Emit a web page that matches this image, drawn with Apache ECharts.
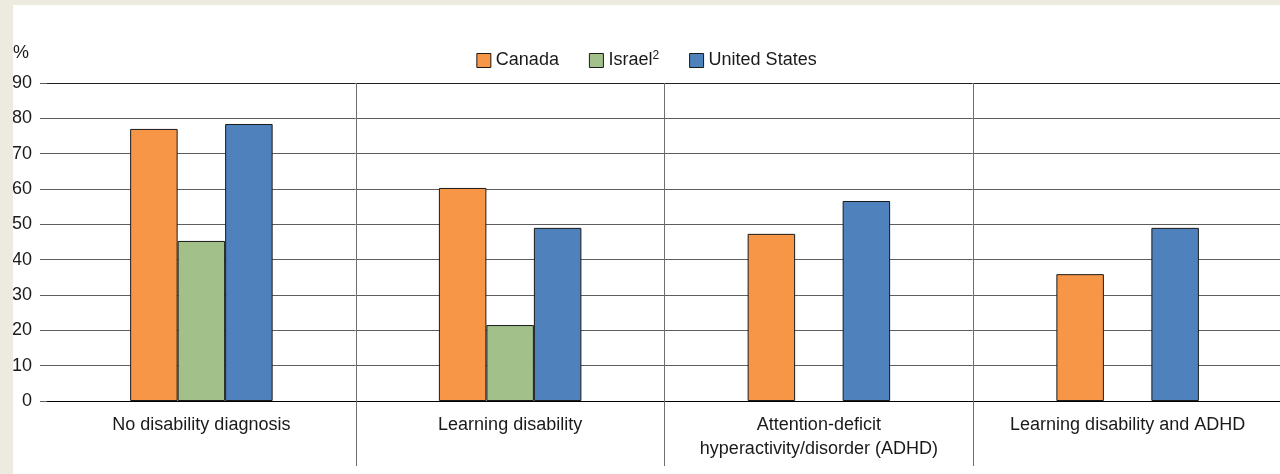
<!DOCTYPE html>
<html>
<head>
<meta charset="utf-8">
<script src="https://cdn.jsdelivr.net/npm/echarts@6/dist/echarts.min.js"></script>
<style>
  html, body { margin: 0; padding: 0; background: #EDEAE0; }
  #chart { position: absolute; left: 13px; top: 5px; width: 1267px; height: 469px; background: #fff; }
</style>
</head>
<body>
<div id="chart"></div>
<script>
// categories and values
const categories = ['No disability diagnosis', 'Learning disability', 'Attention-deficit\nhyperactivity/disorder (ADHD)', 'Learning disability and ADHD'];
const canada = [77.0, 60.3, 47.3, 35.9];
const israel = [45.3, 21.5, null, null];
const unitedStates = [78.4, 49.0, 56.6, 49.0];
const yTicks = [0, 10, 20, 30, 40, 50, 60, 70, 80, 90];

const textColor = '#1a1a1a';
const lineColor = '#5e5e5e';
const sepColor = '#6e6e6e';
const fontFamily = 'Liberation Sans, Arial, sans-serif';

let myChart = echarts.init(document.getElementById('chart'));

// 系列
function barSeries(name, data, color) {
    return {
        name: name,
        type: 'bar',
        data: data,
        barWidth: 47.5,
        barGap: '0%',
        itemStyle: { color: color, borderColor: '#1a1a1a', borderWidth: 1 }
    };
}

let option = {
    animation: false,
    textStyle: { fontFamily: fontFamily },
    legend: {
        top: 40,
        left: 'center',
        icon: 'rect',
        itemWidth: 14,
        itemHeight: 14,
        itemGap: 30,
        itemStyle: { borderColor: '#1a1a1a', borderWidth: 1 },
        textStyle: {
            fontSize: 18,
            color: textColor,
            rich: { sup: { fontSize: 12, verticalAlign: 'top', padding: [0, 0, 9, 0], color: textColor } }
        },
        formatter: function (name) {
            return name === 'Israel' ? 'Israel{sup|2}' : name;
        },
        data: ['Canada', 'Israel', 'United States']
    },
    graphic: [{
        type: 'text',
        left: 0,
        top: 39,
        style: { text: '%', fontSize: 18, fill: textColor, fontFamily: fontFamily }
    }],
    grid: { left: 34, right: -2, top: 78, bottom: 73, outerBoundsMode: 'none', containLabel: false },
    xAxis: {
        type: 'category',
        data: categories,
        axisLine: { show: true, lineStyle: { color: '#000', width: 1 } },
        axisTick: {
            show: true,
            length: 65,
            lineStyle: { color: sepColor },
            interval: function (index) { return index > 0; }
        },
        splitLine: {
            show: true,
            interval: function (index) { return index > 0; },
            lineStyle: { color: sepColor }
        },
        axisLabel: { fontSize: 18, color: textColor, margin: 12, lineHeight: 24, interval: 0 }
    },
    yAxis: {
        type: 'value',
        min: yTicks[0],
        max: yTicks[yTicks.length - 1],
        interval: 10,
        axisLine: { show: false },
        axisTick: { show: true, length: 7, lineStyle: { color: lineColor } },
        splitLine: { lineStyle: { color: ['#000', lineColor, lineColor, lineColor, lineColor, lineColor, lineColor, lineColor, lineColor, '#222'] } },
        axisLabel: { fontSize: 18, color: textColor, margin: 15 }
    },
    series: [
        barSeries('Canada', canada, '#F79646'),
        barSeries('Israel', israel, '#A2C18A'),
        barSeries('United States', unitedStates, '#4F81BD')
    ]
};

myChart.setOption(option);
</script>
</body>
</html>
